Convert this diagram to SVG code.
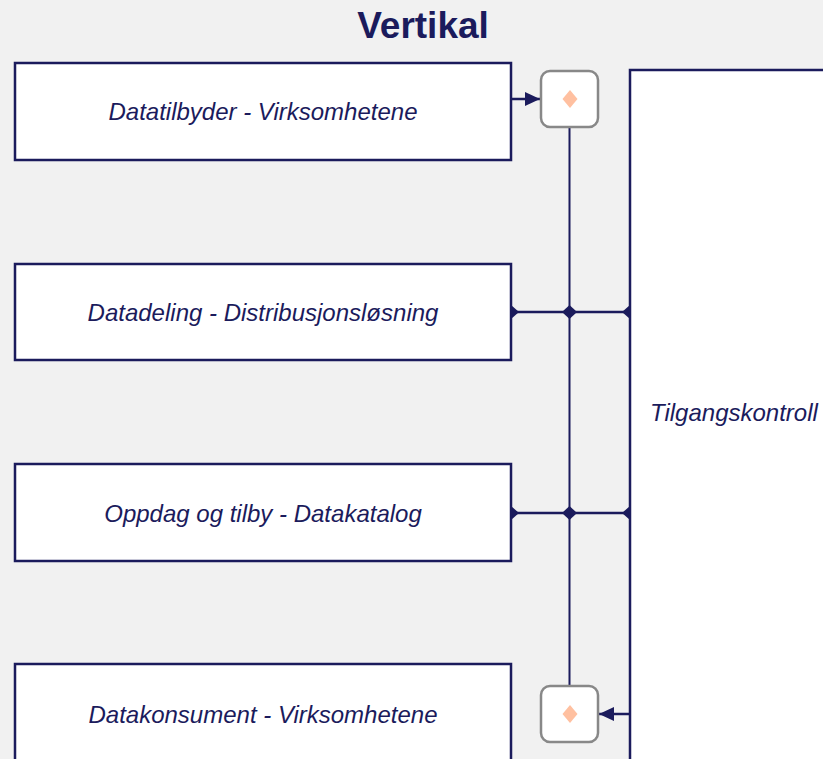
<svg xmlns="http://www.w3.org/2000/svg" width="823" height="759" viewBox="0 0 823 759">
<defs>
<style>
.box{fill:#fff;stroke:#1b1b5c;stroke-width:2.5}
.gw{fill:#fff;stroke:#888;stroke-width:2.5}
.dia{fill:#ffc0a0}
.lbl{font-family:"Liberation Sans",Arial,sans-serif;font-style:italic;font-size:24px;fill:#1b1b5c}
.ln{stroke:#1b1b5c;stroke-width:2.5;fill:none}
.vl{stroke:#1b1b5c;stroke-width:2;fill:none}
</style>
<marker id="arr" viewBox="0 0 15 14" refX="15" refY="7" markerWidth="15" markerHeight="14" markerUnits="userSpaceOnUse" orient="auto"><path d="M0,0 L15,7 L0,14 z" fill="#1b1b5c"/></marker>
<marker id="dm" viewBox="0 0 16 14" refX="8" refY="7" markerWidth="16" markerHeight="14" markerUnits="userSpaceOnUse" orient="auto"><path d="M0,7 L8,0 L16,7 L8,14 z" fill="#1b1b5c"/></marker>
</defs>
<rect width="823" height="759" fill="#f1f1f1"/>
<text x="423" y="38" text-anchor="middle" font-family="Liberation Sans,Arial,sans-serif" font-weight="bold" font-size="37" fill="#1b1b5c">Vertikal</text>
<g id="connectors">
<line class="vl" x1="569.5" y1="128" x2="569.5" y2="685"/>
<line class="ln" x1="511" y1="99" x2="540" y2="99" marker-end="url(#arr)"/>
<line class="ln" x1="630" y1="714" x2="599" y2="714" marker-end="url(#arr)"/>
<line class="ln" x1="511" y1="312" x2="630" y2="312" marker-start="url(#dm)" marker-end="url(#dm)"/>
<line class="ln" x1="511" y1="513" x2="630" y2="513" marker-start="url(#dm)" marker-end="url(#dm)"/>
<path d="M569.5,305 L577,312 L569.5,319 L562,312 z" fill="#1b1b5c"/>
<path d="M569.5,506 L577,513 L569.5,520 L562,513 z" fill="#1b1b5c"/>
</g>
<g id="n1"><rect class="box" x="15" y="63" width="496" height="97"/><text class="lbl" x="263" y="120" text-anchor="middle">Datatilbyder - Virksomhetene</text></g>
<g id="n2"><rect class="box" x="15" y="264" width="496" height="96"/><text class="lbl" x="263" y="321" text-anchor="middle">Datadeling - Distribusjonsløsning</text></g>
<g id="n3"><rect class="box" x="15" y="464" width="496" height="97"/><text class="lbl" x="263" y="522" text-anchor="middle">Oppdag og tilby - Datakatalog</text></g>
<g id="n4"><rect class="box" x="15" y="664" width="496" height="110"/><text class="lbl" x="263" y="723" text-anchor="middle">Datakonsument - Virksomhetene</text></g>
<g id="n5"><rect class="box" x="630" y="70" width="220" height="710"/><text class="lbl" x="650" y="421">Tilgangskontroll</text></g>
<g id="g1"><rect class="gw" x="541" y="71" width="57" height="56" rx="9"/><path class="dia" d="M570,90 L577.5,99 L570,108 L562.5,99 z"/></g>
<g id="g2"><rect class="gw" x="541" y="686" width="57" height="56" rx="9"/><path class="dia" d="M570,705 L577.5,714 L570,723 L562.5,714 z"/></g>
</svg>
